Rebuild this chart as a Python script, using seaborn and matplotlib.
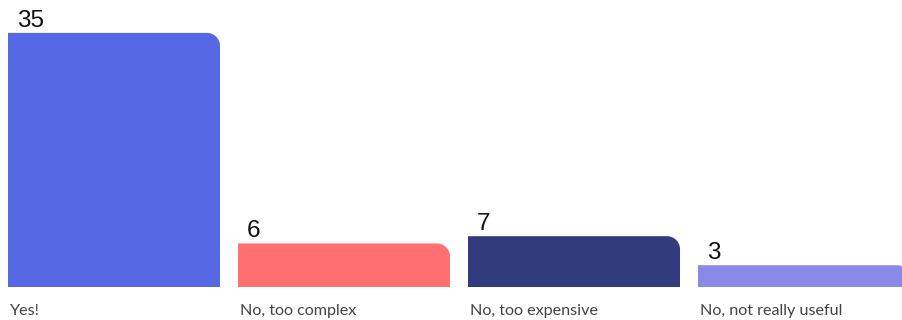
import matplotlib
matplotlib.use("Agg")
import matplotlib.pyplot as plt
import seaborn as sns
import pandas as pd
from matplotlib.path import Path
from matplotlib.patches import PathPatch

categories = ["Yes!", "No, too complex", "No, too expensive", "No, not really useful"]
values = [35, 6, 7, 3]
colors = ["#5668E4", "#FF7171", "#313B7E", "#8B89E7"]

sns.set_theme(style="white")
W, H = 902, 320
fig = plt.figure(figsize=(W / 100, H / 100), dpi=100)
bottom_px = 287
ax = fig.add_axes([0, (H - bottom_px) / H, 1, bottom_px / H])

df = pd.DataFrame({"cat": categories, "val": values})
bar_w = 212 / 230
sns.barplot(data=df, x="cat", y="val", hue="cat", palette=colors, legend=False,
            width=bar_w, saturation=1, ax=ax)

px_x = 230.0
px_y = 7.26
x_left = -bar_w / 2 - 8 / px_x
ax.set_xlim(x_left, x_left + W / px_x)
ax.set_ylim(0, bottom_px / px_y)
ax.axis("off")

r = 13
rx, ry = r / px_x, r / px_y
k = 0.5523
for p, v in zip(list(ax.patches), values):
    x0, y0 = p.get_x(), p.get_y()
    w, h = p.get_width(), p.get_height()
    x1, y1 = x0 + w, y0 + h
    fc = p.get_facecolor()
    p.set_visible(False)
    ryy = min(ry, h)
    verts = [(x0, y0), (x0, y1), (x1 - rx, y1),
             (x1 - rx + k * rx, y1), (x1, y1 - ryy + k * ryy), (x1, y1 - ryy),
             (x1, y0), (x0, y0)]
    codes = [Path.MOVETO, Path.LINETO, Path.LINETO,
             Path.CURVE4, Path.CURVE4, Path.CURVE4,
             Path.LINETO, Path.CLOSEPOLY]
    ax.add_patch(PathPatch(Path(verts, codes), facecolor=fc, edgecolor="none"))
    ax.text(x0 + 9 / px_x, y1 + 6 / px_y, str(v), fontsize=17.5, ha="left",
            va="baseline", family="Liberation Sans", color="#111111")

for i, c in enumerate(categories):
    xpix = 8 + 230 * i + 2
    fig.text(xpix / W, 1 - 311 / H, c, fontsize=11.6, ha="left", va="center",
             family="Lato", color="#444444")

fig.savefig("out.png", dpi=100, facecolor="white")
